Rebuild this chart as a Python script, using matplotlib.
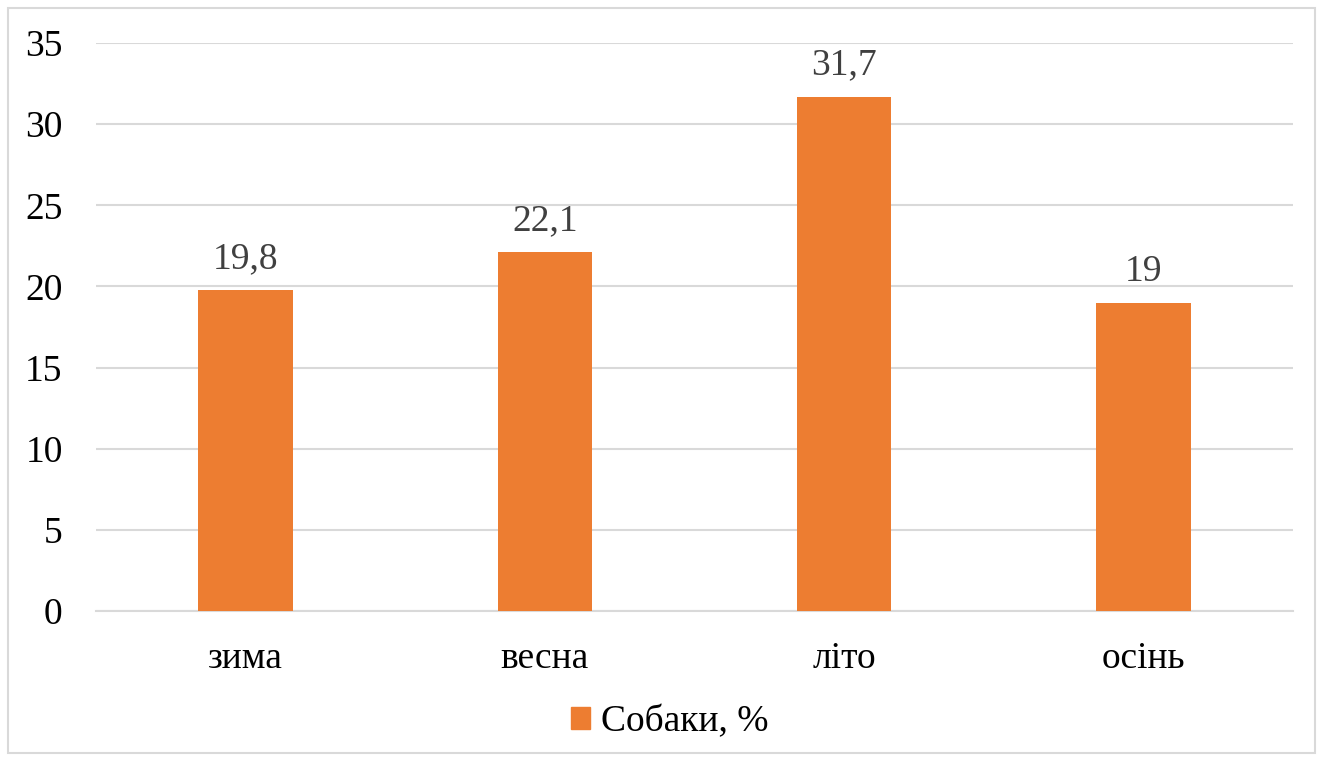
import matplotlib.pyplot as plt
from matplotlib.patches import Rectangle, Patch

seasons = ['зима', 'весна', 'літо', 'осінь']
dogs = [19.8, 22.1, 31.7, 19]
labels = ['19,8', '22,1', '31,7', '19']
yticks = [0, 5, 10, 15, 20, 25, 30, 35]

plt.rcParams['font.family'] = ['Liberation Serif', 'DejaVu Serif']

W, H = 1323, 761
fig = plt.figure(figsize=(W / 100, H / 100), dpi=100)
ax = fig.add_axes([96 / W, 1 - 611 / H, (1293 - 96) / W, (611 - 43) / H])

x = range(len(seasons))
ax.bar(x, dogs, width=0.315, color='#ED7D31', zorder=3)
for i, v in enumerate(dogs):
    ax.annotate(labels[i], (i, v), xytext=(0, 10), textcoords='offset points',
                ha='center', va='bottom', fontsize=27, color='#404040')

ax.set_xlim(-0.5, len(seasons) - 0.5)
ax.set_ylim(0, 35)
ax.set_yticks(yticks)
ax.set_yticklabels([str(t) for t in yticks], fontsize=27)
ax.set_xticks(list(x))
ax.set_xticklabels(seasons, fontsize=27)
ax.tick_params(axis='y', length=0, pad=24)
ax.tick_params(axis='x', length=0, pad=22)
ax.grid(axis='y', color='#D9D9D9', linewidth=1.5, zorder=0)
for s in ['top', 'right', 'left']:
    ax.spines[s].set_visible(False)
ax.spines['bottom'].set_color('#D9D9D9')
ax.spines['bottom'].set_linewidth(1.5)

fig.legend(handles=[Patch(color='#ED7D31', label='Собаки, %')],
           loc='center', bbox_to_anchor=(670 / W, 1 - 722 / H),
           frameon=False, fontsize=27, handlelength=0.5, handleheight=0.5,
           handletextpad=0.3)

fig.patches.append(Rectangle((8 / W, 8 / H), 1 - 16 / W, 1 - 16 / H,
                             transform=fig.transFigure, fill=False,
                             edgecolor='#D9D9D9', linewidth=1.5))

fig.savefig('out.png', dpi=100)
